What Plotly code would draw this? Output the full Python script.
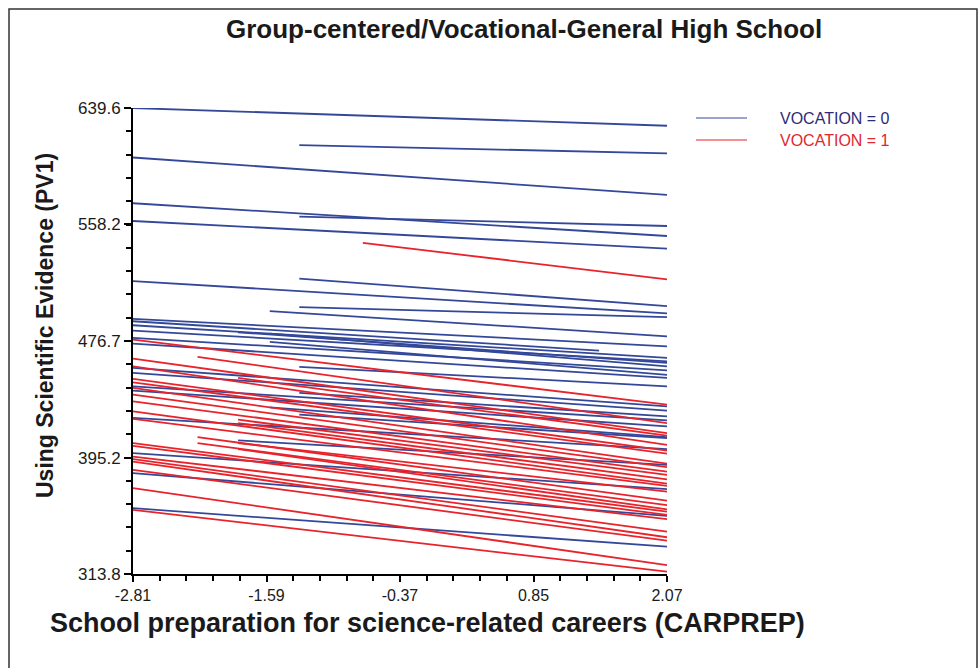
import plotly.graph_objects as go

# ---------------- data ----------------
TITLE = "Group-centered/Vocational-General High School"
X_TITLE = "School preparation for science-related careers (CARPREP)"
Y_TITLE = "Using Scientific Evidence (PV1)"
SERIES_NAMES = ["VOCATION = 0", "VOCATION = 1"]

X_TICKS = [-2.81, -1.59, -0.37, 0.85, 2.07]
X_TICK_LABELS = ["-2.81", "-1.59", "-0.37", "0.85", "2.07"]
Y_TICKS = [313.8, 395.2, 476.7, 558.2, 639.6]
Y_TICK_LABELS = ["313.8", "395.2", "476.7", "558.2", "639.6"]

# VOCATION = 0 (blue) school regression lines: start x, start y, end x, end y
BLUE_X0 = [-2.81, -1.29, -2.81, -2.81, -1.29, -2.81, -1.29, -2.81, -1.29, -1.56,
           -2.81, -2.81, -2.81, -2.81, -1.85, -1.56, -2.81, -1.56, -2.81, -1.29,
           -2.81, -2.81, -2.81, -2.81, -1.29, -1.56, -1.29, -2.81, -1.85, -2.81,
           -2.81, -2.81]
BLUE_Y0 = [639.6, 613.7, 605.0, 573.0, 563.7, 560.6, 520.3, 518.6, 500.4, 497.6,
           492.2, 490.5, 487.7, 484.0, 482.8, 481.9, 478.9, 476.1, 474.9, 458.6,
           457.9, 454.4, 445.0, 442.0, 440.4, 430.3, 425.2, 422.9, 407.2, 398.3,
           384.3, 359.8]
BLUE_X1 = [2.07, 2.07, 2.07, 2.07, 2.07, 2.07, 2.07, 2.07, 2.07, 2.07,
           2.07, 1.45, 2.07, 2.07, 2.07, 2.07, 2.07, 2.07, 2.07, 2.07,
           2.07, 2.07, 2.07, 2.07, 2.07, 2.07, 2.07, 2.07, 2.07, 2.07,
           2.07, 2.07]
BLUE_Y1 = [627.2, 607.9, 578.8, 550.1, 557.1, 541.3, 501.1, 496.0, 493.4, 480.0,
           473.0, 470.0, 464.9, 462.5, 461.4, 459.0, 456.2, 453.0, 450.9, 445.0,
           431.0, 428.0, 421.2, 417.0, 424.0, 409.5, 408.8, 401.1, 390.1, 373.1,
           354.4, 332.9]

# VOCATION = 1 (red) school regression lines
RED_X0 = [-0.71, -2.81, -2.22, -2.81, -2.81, -1.85, -2.81, -2.81, -2.81, -2.81,
          -2.81, -2.81, -2.81, -1.85, -1.85, -2.22, -2.81, -2.22, -1.85, -2.81,
          -1.85, -2.81, -2.81, -2.81, -2.81, -2.81, -2.81]
RED_Y0 = [545.3, 477.7, 465.6, 464.4, 459.0, 450.9, 450.2, 447.8, 443.9, 439.2,
          434.5, 427.5, 422.2, 421.7, 419.3, 409.5, 405.3, 405.3, 405.3, 403.4,
          401.1, 395.9, 394.1, 392.4, 386.6, 373.8, 358.6]
RED_X1 = [2.07] * 27
RED_Y1 = [519.8, 432.2, 419.3, 412.3, 404.1, 410.5, 400.1, 398.0, 391.0, 388.5,
          385.4, 377.0, 375.4, 383.1, 380.0, 365.1, 357.4, 362.0, 371.4, 355.1,
          359.0, 352.1, 343.4, 339.5, 337.1, 320.0, 315.4]

BLUE = "#34489a"
RED = "#e8232b"
BLUE_TEXT = "#2d2a78"
RED_TEXT = "#e0262e"
FONT = "Liberation Sans, Arial, sans-serif"


def segments(x0, y0, x1, y1):
    xs, ys = [], []
    for a, b, c, d in zip(x0, y0, x1, y1):
        xs += [a, c, None]
        ys += [b, d, None]
    return xs, ys


fig = go.Figure()
bx, by = segments(BLUE_X0, BLUE_Y0, BLUE_X1, BLUE_Y1)
rx, ry = segments(RED_X0, RED_Y0, RED_X1, RED_Y1)
fig.add_trace(go.Scatter(x=bx, y=by, mode="lines", name=SERIES_NAMES[0],
                         line=dict(color=BLUE, width=1.8), showlegend=False,
                         hoverinfo="skip"))
fig.add_trace(go.Scatter(x=rx, y=ry, mode="lines", name=SERIES_NAMES[1],
                         line=dict(color=RED, width=1.8), showlegend=False,
                         hoverinfo="skip"))

# plot area in pixels: x 133..667, y 108..574
L, R, T, B = 133, 667, 108, 574
W, H = 980, 668


def px(x):
    return (x - L) / (R - L)


def py(y):
    return (B - y) / (B - T)


axis_common = dict(showline=True, linewidth=2, linecolor="black", showgrid=False,
                   zeroline=False, ticks="outside", tickwidth=2, tickcolor="black",
                   tickmode="array", fixedrange=True)

fig.update_layout(
    width=W, height=H,
    margin=dict(l=L, r=W - R, t=T, b=H - B, pad=0),
    paper_bgcolor="white", plot_bgcolor="white",
    showlegend=False,
    xaxis=dict(range=[X_TICKS[0], X_TICKS[-1]], tickvals=X_TICKS, ticktext=X_TICK_LABELS,
               ticklen=6, tickfont=dict(family=FONT, size=16, color="#1a1a1a"),
               minor=dict(tickmode="linear", tick0=X_TICKS[0],
                          dtick=(X_TICKS[1] - X_TICKS[0]) / 5, ticks="outside",
                          ticklen=5, tickwidth=2, tickcolor="black", showgrid=False),
               **axis_common),
    yaxis=dict(range=[Y_TICKS[0], Y_TICKS[-1]], tickvals=Y_TICKS, ticktext=Y_TICK_LABELS,
               ticklen=7, tickfont=dict(family=FONT, size=17, color="#1a1a1a"),
               minor=dict(tickmode="linear", tick0=Y_TICKS[0],
                          dtick=(Y_TICKS[-1] - Y_TICKS[0]) / 20, ticks="outside",
                          ticklen=5, tickwidth=2, tickcolor="black", showgrid=False),
               **axis_common),
)

annotations = [
    dict(text=TITLE, x=px(524), y=py(29), xref="paper", yref="paper",
         showarrow=False, xanchor="center", yanchor="middle",
         font=dict(family=FONT, size=26, color="#1a1a1a", weight="bold")),
    dict(text=X_TITLE, x=px(427), y=py(623), xref="paper", yref="paper",
         showarrow=False, xanchor="center", yanchor="middle",
         font=dict(family=FONT, size=27, color="#1a1a1a", weight="bold")),
    dict(text=Y_TITLE, x=px(45), y=py(326), xref="paper", yref="paper",
         showarrow=False, xanchor="center", yanchor="middle", textangle=-90,
         font=dict(family=FONT, size=23, color="#1a1a1a", weight="bold")),
    dict(text=SERIES_NAMES[0], x=px(778), y=py(118), xref="paper", yref="paper",
         showarrow=False, xanchor="left", yanchor="middle",
         font=dict(family=FONT, size=16, color=BLUE_TEXT)),
    dict(text=SERIES_NAMES[1], x=px(778), y=py(140), xref="paper", yref="paper",
         showarrow=False, xanchor="left", yanchor="middle",
         font=dict(family=FONT, size=16, color=RED_TEXT)),
]
fig.update_layout(annotations=annotations)

shapes = [
    dict(type="line", xref="paper", yref="paper", x0=px(696), x1=px(747),
         y0=py(118), y1=py(118), line=dict(color=BLUE, width=1.2)),
    dict(type="line", xref="paper", yref="paper", x0=px(696), x1=px(747),
         y0=py(140), y1=py(140), line=dict(color=RED, width=1.2)),
    dict(type="rect", xref="paper", yref="paper", x0=px(9), x1=px(977),
         y0=py(690), y1=py(9), line=dict(color="#333333", width=1.5),
         fillcolor="rgba(0,0,0,0)"),
]
fig.update_layout(shapes=shapes)

fig.write_html("out.html")
